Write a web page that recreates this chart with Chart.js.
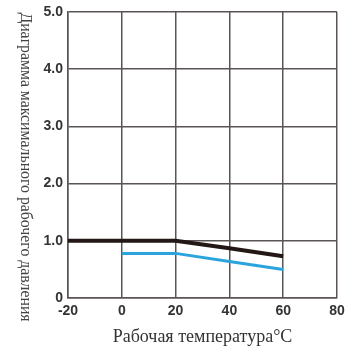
<!DOCTYPE html>
<html><head><meta charset="utf-8">
<script src="https://cdn.jsdelivr.net/npm/chart.js@4"></script>
<style>html,body{margin:0;padding:0;background:#fff}#w{width:347px;height:348px}</style>
</head><body><div id="w"><canvas id="c"></canvas></div>
<script>
const blackTemps = [-20, 0, 20, 40, 60];
const blackValues = [1.0, 1.0, 1.0, 0.87, 0.73];
const blueTemps = [0, 20, 40, 60];
const blueValues = [0.78, 0.78, 0.64, 0.50];
const xTickValues = [-20, 0, 20, 40, 60, 80];
const xTickLabels = ['-20', '0', '20', '40', '60', '80'];
const yTickValues = [0, 1, 2, 3, 4, 5];
const yTickLabels = ['0', '1.0', '2.0', '3.0', '4.0', '5.0'];
const xTitle = 'Рабочая температура°С';
const yTitle = 'Диаграмма максимального рабочего давления';

const gridColor = '#5a5554';
const yTitlePlugin = {
  id: 'yTitle',
  afterDraw(chart) {
    const ctx = chart.ctx, a = chart.chartArea;
    ctx.save();
    ctx.translate(25, (a.top + a.bottom) / 2 + 12);
    ctx.rotate(Math.PI / 2);
    ctx.font = '15.8px "Liberation Serif"';
    ctx.fillStyle = '#444';
    ctx.textAlign = 'center';
    ctx.textBaseline = 'middle';
    ctx.fillText(yTitle, 0, 0);
    ctx.restore();
  }
};
new Chart(document.getElementById('c'), {
  type: 'line',
  data: {
    datasets: [
      {data: blackTemps.map((t,i)=>({x:t,y:blackValues[i]})), borderColor:'#231815', borderWidth:4, pointRadius:0, tension:0},
      {data: blueTemps.map((t,i)=>({x:t,y:blueValues[i]})), borderColor:'#2ba4de', borderWidth:3, pointRadius:0, tension:0}
    ]
  },
  plugins: [yTitlePlugin],
  options: {
    responsive: true, maintainAspectRatio: false, animation: false,
    layout: {padding: {left: 0, right: 10, top: 12, bottom: 0}},
    plugins: {legend: {display: false}, tooltip: {enabled: false}},
    scales: {
      x: {
        type: 'linear', min: -20, max: 80,
        afterBuildTicks: s => { s.ticks = xTickValues.map(v => ({value: v})); },
        ticks: {callback: (v) => xTickLabels[xTickValues.indexOf(v)], color: '#333', font: {family: 'Liberation Sans', size: 14, weight: 'bold'}, padding: 5, maxRotation: 0},
        grid: {color: gridColor, lineWidth: 1.5, drawTicks: false},
        border: {color: gridColor, width: 1.5},
        title: {display: true, text: xTitle, color: '#333', font: {family: 'Liberation Serif', size: 18}, padding: {top: 0, bottom: 0}},
        afterFit: s => { s.height = 50; s.paddingLeft = 0; s.paddingRight = 0; }
      },
      y: {
        min: 0, max: 5,
        afterBuildTicks: s => { s.ticks = yTickValues.map(v => ({value: v})); },
        ticks: {callback: (v) => yTickLabels[yTickValues.indexOf(v)], color: '#333', font: {family: 'Liberation Sans', size: 14, weight: 'bold'}, padding: 5},
        grid: {color: gridColor, lineWidth: 1.5, drawTicks: false},
        border: {color: gridColor, width: 1.5},
        title: {display: false},
        afterFit: s => { s.width = 68; s.paddingTop = 0; s.paddingBottom = 0; }
      }
    }
  }
});
</script></body></html>
